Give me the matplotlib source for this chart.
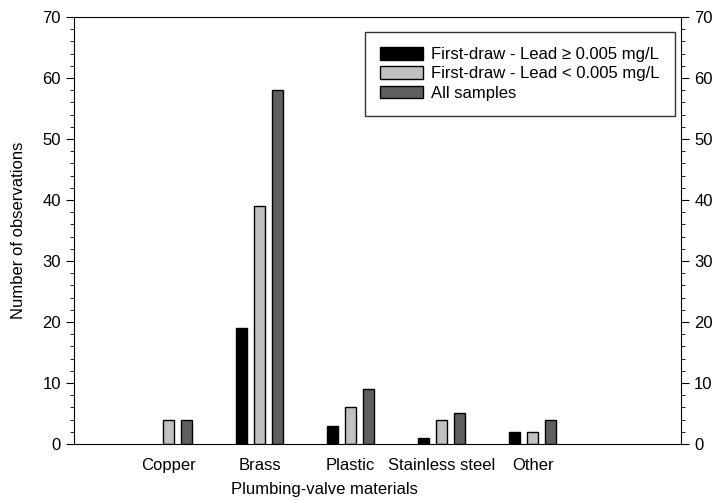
import numpy as np
import matplotlib as mpl
mpl.use("Agg")
import matplotlib.pyplot as plt
from matplotlib.ticker import MultipleLocator

categories = ["Copper", "Brass", "Plastic", "Stainless steel", "Other"]
lead_high = [0, 19, 3, 1, 2]
lead_low = [4, 39, 6, 4, 2]
all_samples = [4, 58, 9, 5, 4]
labels = ["First-draw - Lead \u2265 0.005 mg/L",
          "First-draw - Lead < 0.005 mg/L",
          "All samples"]
colors = ["#000000", "#c0c0c0", "#5f5f5f"]

mpl.rcParams["font.family"] = ["Liberation Sans", "DejaVu Sans"]
mpl.rcParams["font.size"] = 12

fig = plt.figure(figsize=(7.17, 5.01), dpi=100)
ax = fig.add_axes([0.1032, 0.1138, 0.8466, 0.8522])

x = np.arange(len(categories))
w = 0.12
off = 0.2
for i, (vals, lab, c) in enumerate(zip([lead_high, lead_low, all_samples], labels, colors)):
    v = np.array(vals, dtype=float)
    m = v > 0
    ax.bar(x[m] + (i - 1) * off, v[m], width=w, color=c, edgecolor="black",
           linewidth=1.0, label=lab)

ax.set_xlim(-1.04, 5.63)
ax.set_ylim(0, 70)
ax.yaxis.set_major_locator(MultipleLocator(10))
ax.yaxis.set_minor_locator(MultipleLocator(2))
ax.tick_params(axis="y", which="both", direction="out", left=True, right=True,
               labelleft=True, labelright=True)
ax.tick_params(axis="y", which="major", length=6)
ax.tick_params(axis="y", which="minor", length=3)
ax.set_xticks(x)
ax.set_xticklabels(categories)
ax.tick_params(axis="x", length=0, pad=10)

ax.set_ylabel("Number of observations", labelpad=12)
ax.set_xlabel("Plumbing-valve materials")
ax.xaxis.set_label_coords(0.413, -0.088)

leg = ax.legend(loc="upper right", bbox_to_anchor=(0.99, 0.965), frameon=True,
                fancybox=False, edgecolor="black", handlelength=2.6,
                handleheight=0.8, borderpad=0.9, labelspacing=0.25,
                handletextpad=0.5, borderaxespad=0)
leg.get_frame().set_linewidth(1.0)

plt.savefig("out.png", dpi=100)
